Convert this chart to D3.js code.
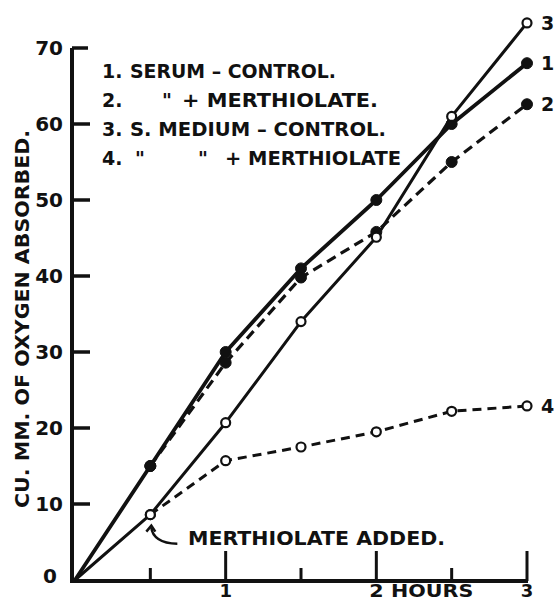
<!DOCTYPE html>
<html>
<head>
<meta charset="utf-8">
<script src="https://cdn.jsdelivr.net/npm/d3@7"></script>
<style>
  html, body { margin: 0; padding: 0; background: #fff; }
  svg { display: block; }
  text { font-family: "DejaVu Sans", sans-serif; fill: #111; font-weight: bold; }
</style>
</head>
<body>
<div id="chart"></div>
<script>
// ── Data ─────────────────────────────────────────────────────────────────────
const hours = [0, 0.5, 1, 1.5, 2, 2.5, 3];

const serumControl   = [0, 15, 30, 41, 50, 60, 68];            // 1
const serumMerth     = [null, 15, 28.6, 39.8, 45.8, 55, 62.6];  // 2 (from 0.5 h)
const mediumControl  = [0, 8.6, 20.7, 34, 45.1, 61, 73.3];      // 3
const mediumMerth    = [null, 8.6, 15.7, 17.5, 19.5, 22.2, 22.9]; // 4 (from 0.5 h)

const yTicks = [0, 10, 20, 30, 40, 50, 60, 70];
const xTickLabels = [{ v: 1, t: "1" }, { v: 2, t: "2 HOURS" }, { v: 3, t: "3" }];

// legend rows, split into the pieces that are lettered apart
const legendRows = [
  ["1.", "SERUM – CONTROL."],
  ["2.", "\"", "+ MERTHIOLATE."],
  ["3.", "S. MEDIUM – CONTROL."],
  ["4.", "\"", "\"", "+ MERTHIOLATE"]
];

const series = [
  { id: "1", values: serumControl,  dash: null,   width: 3.8, filled: true },
  { id: "2", values: serumMerth,    dash: "10,6", width: 3.2, filled: true },
  { id: "3", values: mediumControl, dash: null,   width: 3,   filled: false },
  { id: "4", values: mediumMerth,   dash: "9,6",  width: 3,   filled: false }
];

// ── Layout ───────────────────────────────────────────────────────────────────
const W = 556, H = 601;
const x = d3.scaleLinear().domain([0, 3]).range([75, 527]);
const y = d3.scaleLinear().domain([0, 70]).range([580, 48]);

const svg = d3.select("#chart").append("svg")
  .attr("width", W).attr("height", H);

// ── Axes ─────────────────────────────────────────────────────────────────────
const axisX = 72, axisY = 581;

svg.append("line")
  .attr("x1", axisX).attr("x2", axisX)
  .attr("y1", y(70)).attr("y2", axisY + 2)
  .attr("stroke", "#111").attr("stroke-width", 4);

svg.append("line")
  .attr("x1", axisX - 2).attr("x2", x(3) + 1)
  .attr("y1", axisY).attr("y2", axisY)
  .attr("stroke", "#111").attr("stroke-width", 4);

// y ticks point inward (right)
svg.selectAll("line.ytick")
  .data(yTicks.filter(d => d > 0))
  .join("line")
  .attr("class", "ytick")
  .attr("x1", axisX).attr("x2", d => d === 70 ? axisX + 16 : axisX + 18)
  .attr("y1", d => y(d)).attr("y2", d => y(d))
  .attr("stroke", "#111").attr("stroke-width", 3.5);

svg.selectAll("text.ylab")
  .data(yTicks)
  .join("text")
  .attr("class", "ylab")
  .attr("x", d => d === 0 ? 57 : 63)
  .attr("y", d => (d === 0 ? y(d) - 4 : y(d)) + 7)
  .attr("text-anchor", "end")
  .attr("font-size", 20)
  .text(d => d);

// x ticks point up: tall on whole hours, short on half hours
svg.selectAll("line.xtick")
  .data(d3.range(1, 7).map(d => d / 2))
  .join("line")
  .attr("class", "xtick")
  .attr("x1", d => x(d)).attr("x2", d => x(d))
  .attr("y1", axisY)
  .attr("y2", d => Number.isInteger(d) ? axisY - 30 : axisY - 13)
  .attr("stroke", "#111").attr("stroke-width", 3);

svg.selectAll("text.xlab")
  .data(xTickLabels)
  .join("text")
  .attr("class", "xlab")
  .attr("x", d => d.v === 2 ? x(d.v) - 7 : x(d.v))
  .attr("y", 597)
  .attr("text-anchor", d => d.v === 2 ? "start" : "middle")
  .attr("font-size", 18)
  .attr("textLength", d => d.v === 2 ? 104 : null)
  .attr("lengthAdjust", d => d.v === 2 ? "spacingAndGlyphs" : null)
  .text(d => d.t);

svg.append("text")
  .attr("transform", `translate(29,${319}) rotate(-90)`)
  .attr("text-anchor", "middle")
  .attr("font-size", 20)
  .attr("textLength", 378)
  .attr("lengthAdjust", "spacingAndGlyphs")
  .text("CU. MM. OF OXYGEN ABSORBED.");

// ── Lines ────────────────────────────────────────────────────────────────────
const line = d3.line()
  .defined(d => d[1] != null)
  .x(d => x(d[0])).y(d => y(d[1]));

series.forEach(s => {
  const pts = hours.map((h, i) => [h, s.values[i]]);
  svg.append("path")
    .attr("d", line(pts))
    .attr("fill", "none")
    .attr("stroke", "#111")
    .attr("stroke-width", s.width)
    .attr("stroke-dasharray", s.dash)
    .attr("stroke-linejoin", "round");
});

series.forEach(s => {
  const pts = hours.map((h, i) => [h, s.values[i]]).filter(d => d[1] != null && d[0] > 0);
  svg.selectAll(null)
    .data(pts)
    .join("circle")
    .attr("cx", d => x(d[0])).attr("cy", d => y(d[1]))
    .attr("r", s.filled ? 5.5 : 4.5)
    .attr("fill", s.filled ? "#111" : "#fff")
    .attr("stroke", "#111")
    .attr("stroke-width", s.filled ? 1 : 2.2);

  const last = pts[pts.length - 1];
  svg.append("text")
    .attr("x", x(last[0]) + 14).attr("y", y(last[1]) + 7)
    .attr("font-size", 19)
    .text(s.id);
});

// ── Legend ───────────────────────────────────────────────────────────────────
// x start / lettered width of each piece, per row
const legendLayout = [
  [[102, null], [130, 206]],
  [[102, null], [162, null], [182, 196]],
  [[102, null], [130, 256]],
  [[102, null], [135, null], [198, null], [225, 176]]
];
const legend = svg.append("g");
legendRows.forEach((row, i) => {
  const t = legend.append("text")
    .attr("y", 78 + i * 29)
    .attr("font-size", 19);
  row.forEach((piece, j) => {
    const [px, len] = legendLayout[i][j];
    t.append("tspan")
      .attr("x", px)
      .attr("textLength", len)
      .attr("lengthAdjust", len ? "spacingAndGlyphs" : null)
      .text(piece);
  });
});

// ── Annotation: merthiolate added at 0.5 h ──────────────────────────────────
const ax = x(0.5), ay = y(mediumControl[1]);
svg.append("path")
  .attr("d", `M${ax + 27},${ay + 29} C${ax + 10},${ay + 29} ${ax + 2},${ay + 22} ${ax + 1},${ay + 13}`)
  .attr("fill", "none").attr("stroke", "#111").attr("stroke-width", 2.5);
svg.append("path")
  .attr("d", `M${ax - 4},${ay + 17} L${ax + 1},${ay + 11} L${ax + 5},${ay + 17}`)
  .attr("fill", "none").attr("stroke", "#111").attr("stroke-width", 2.5);

svg.append("text")
  .attr("x", 188).attr("y", ay + 30)
  .attr("font-size", 19)
  .attr("textLength", 257)
  .attr("lengthAdjust", "spacingAndGlyphs")
  .text("MERTHIOLATE ADDED.");
</script>
</body>
</html>
